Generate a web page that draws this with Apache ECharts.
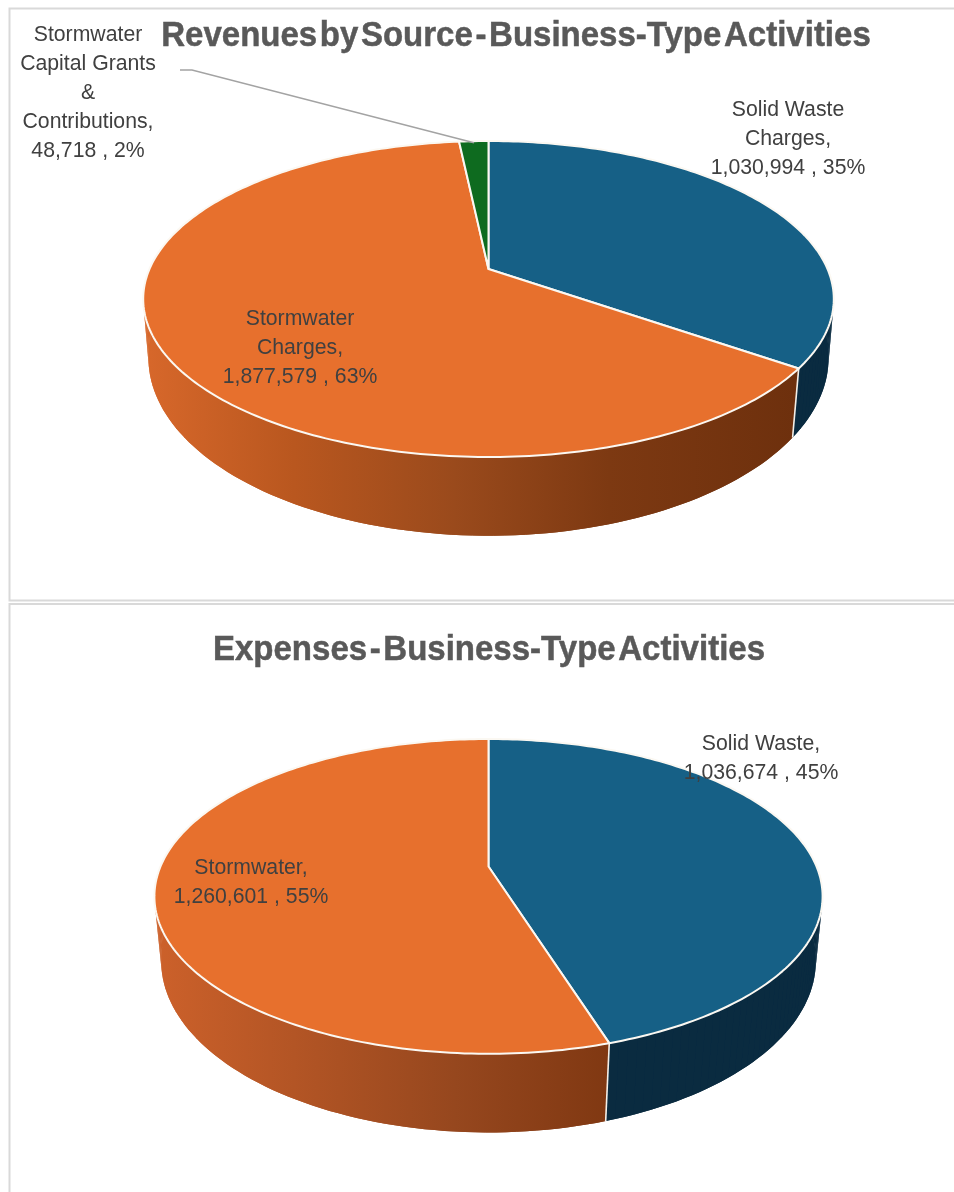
<!DOCTYPE html>
<html>
<head>
<meta charset="utf-8">
<title>Business-Type Activities</title>
<style>
  html, body { margin: 0; padding: 0; background: #fff; }
  #chart { width: 954px; height: 1192px; }
</style>
<script src="https://cdn.jsdelivr.net/npm/echarts@6/dist/echarts.min.js"></script>
</head>
<body>
<div id="chart"></div>
<script>
// Reported amounts, clockwise from twelve o'clock
const revenueNames = [['Solid Waste', 'Charges,'], ['Stormwater', 'Charges,'], ['Stormwater', 'Capital Grants', '&', 'Contributions,']];
const revenueValues = [1030994, 1877579, 48718];
const expenseNames = [['Solid Waste,'], ['Stormwater,']];
const expenseValues = [1036674, 1260601];

const revenueTitle = 'Revenues by Source - Business-Type Activities';
const expenseTitle = 'Expenses - Business-Type Activities';

const FONT = '"Liberation Sans", Arial, sans-serif';
const BLUE = '#166086', BLUE_WALL = '#0A2B40';
const ORANGE = '#E7702D';
const GREEN = '#0E6B1F';

// Each disc is a perspective projection: k tilts the near edge towards the viewer,
// (cx, y) is the projected centre, a and b the horizontal and vertical scale.
const revenueShape = {
  top: { cx: 488.5, y: 269, a: 339, b: 152.3, k: 0.19 },
  base: { cx: 488.5, y: 326, a: 334.5, b: 172, k: 0.18 }
};
const expenseShape = {
  top: { cx: 488.5, y: 866.5, a: 328, b: 151.7, k: 0.19 },
  base: { cx: 488.5, y: 930, a: 322, b: 166, k: 0.18 }
};

function project(p, theta, r) {
  const u = Math.sin(theta) * r, v = -Math.cos(theta) * r;
  const w = 1 - p.k * v;
  return [p.cx + p.a * u / w, p.y + p.b * v / w];
}

// Start and end angle of every slice from its share of the total
function sliceAngles(values) {
  const total = values.reduce((s, v) => s + v, 0);
  let acc = 0;
  return values.map(v => {
    const start = acc / total * Math.PI * 2;
    acc += v;
    return [start, acc / total * Math.PI * 2, v / total];
  });
}

function arcAngles(a0, a1, stepDeg) {
  const n = Math.max(2, Math.ceil((a1 - a0) / (stepDeg * Math.PI / 180)));
  const out = [];
  for (let i = 0; i <= n; i++) out.push(a0 + (a1 - a0) * i / n);
  return out;
}

function wallFill(color, stops) {
  if (!stops) return color;
  return new echarts.graphic.LinearGradient(140, 0, 840, 0, stops, true);
}

// Outer walls: one band underneath, then short quads swept between the rim and
// the base so the silhouette stays tangent to both ellipses
function wallSeries(values, shape, wallColors) {
  const angles = sliceAngles(values);
  return {
    type: 'custom',
    coordinateSystem: 'none',
    silent: true,
    animation: false,
    z: 2,
    data: values.map(v => [v]),
    renderItem(params) {
      const i = params.dataIndex;
      const [a0, a1] = angles[i];
      const fill = wallFill(wallColors[i].color, wallColors[i].stops);
      const ts = arcAngles(a0, a1, 1.5);
      const band = ts.map(t => project(shape.top, t, 1))
        .concat(ts.slice().reverse().map(t => project(shape.base, t, 1)));
      const children = [{ type: 'polygon', shape: { points: band }, style: { fill: fill } }];
      for (let j = 0; j < ts.length - 1; j++) {
        children.push({
          type: 'polygon',
          shape: { points: [
            project(shape.top, ts[j], 1), project(shape.top, ts[j + 1], 1),
            project(shape.base, ts[j + 1], 1), project(shape.base, ts[j], 1)
          ] },
          style: { fill: fill }
        });
      }
      return { type: 'group', children };
    }
  };
}

// Top faces, the seams on the front wall, the data labels and the leader line
function faceSeries(values, names, shape, colors, labelSpots, leader) {
  const angles = sliceAngles(values);
  return {
    type: 'custom',
    coordinateSystem: 'none',
    silent: true,
    animation: false,
    z: 3,
    data: values.map(v => [v]),
    renderItem(params, api) {
      const i = params.dataIndex;
      const value = api.value(0);
      const [a0, a1, share] = angles[i];
      const pts = [[shape.top.cx, shape.top.y]];
      arcAngles(a0, a1, 1).forEach(t => pts.push(project(shape.top, t, 1)));
      const children = [{
        type: 'polygon',
        shape: { points: pts },
        style: { fill: colors[i], stroke: '#fbf8f2', lineWidth: 2, lineJoin: 'round' }
      }];
      // A seam is only visible where the slice boundary meets the near half of the disc
      if (-Math.cos(a1) > 0) {
        children.push({
          type: 'line',
          shape: (function () {
            const p = project(shape.top, a1, 1), q = project(shape.base, a1, 1);
            return { x1: p[0], y1: p[1], x2: q[0], y2: q[1] };
          })(),
          style: { stroke: '#f4efe8', lineWidth: 1.6 }
        });
      }
      const lines = names[i].concat(value.toLocaleString('en-US') + ' , ' + Math.round(share * 100) + '%');
      children.push({
        type: 'text',
        x: labelSpots[i][0],
        y: labelSpots[i][1],
        scaleX: 0.965,
        z2: 5,
        style: {
          text: lines.join('\n'),
          font: '22px ' + FONT,
          fill: '#404040',
          align: 'center',
          verticalAlign: 'middle',
          lineHeight: 29
        }
      });
      if (leader && leader.index === i) {
        children.push({
          type: 'polyline',
          z2: 4,
          shape: { points: [leader.from, leader.elbow, project(shape.top, (a0 + a1) / 2, 0.985)] },
          style: { fill: 'none', stroke: '#a3a3a3', lineWidth: 1.4 }
        });
      }
      return { type: 'group', children };
    }
  };
}

// Heavy, tightly set heading: the word gaps are drawn in a much smaller size than the words
function titleText(text, x, y) {
  return {
    type: 'text', x, y, scaleX: 0.943, z: 6,
    style: {
      text: text.split(' ').map(word => '{w|' + word + '}').join('{s| }'),
      align: 'center',
      verticalAlign: 'middle',
      rich: {
        w: { font: 'bold 35px ' + FONT, fill: '#595959', stroke: '#595959', lineWidth: 0.5 },
        s: { font: 'bold 10px ' + FONT, fill: '#595959' }
      }
    }
  };
}

function panel(y, height) {
  return {
    type: 'rect', z: 0,
    shape: { x: 9.5, y, width: 980, height },
    style: { fill: '#fff', stroke: '#d9d9d9', lineWidth: 2 }
  };
}

const chart = echarts.init(document.getElementById('chart'));
chart.setOption({
  backgroundColor: '#ffffff',
  animation: false,
  graphic: [
    panel(8.5, 592),
    panel(604, 640),
    titleText(revenueTitle, 516, 36.5),
    titleText(expenseTitle, 489, 650)
  ],
  series: [
    wallSeries(revenueValues, revenueShape, [
      { color: BLUE_WALL },
      { stops: [
        { offset: 0, color: '#D8682B' }, { offset: 0.22, color: '#B9571F' },
        { offset: 0.45, color: '#9A4A1C' }, { offset: 0.67, color: '#7D3912' },
        { offset: 1, color: '#6A2E0C' }
      ] },
      { color: '#0A4A16' }
    ]),
    faceSeries(revenueValues, revenueNames, revenueShape, [BLUE, ORANGE, GREEN],
      [[788, 139], [300, 347.5], [88, 92.5]],
      { index: 2, from: [180, 70], elbow: [192, 70] }),
    wallSeries(expenseValues, expenseShape, [
      { color: BLUE_WALL },
      { stops: [
        { offset: 0, color: '#CF622B' }, { offset: 0.22, color: '#B35525' },
        { offset: 0.45, color: '#96471E' }, { offset: 0.67, color: '#803812' },
        { offset: 1, color: '#6A2E0C' }
      ] }
    ]),
    faceSeries(expenseValues, expenseNames, expenseShape, [BLUE, ORANGE],
      [[761, 758], [251, 882.5]])
  ]
});
</script>
</body>
</html>
